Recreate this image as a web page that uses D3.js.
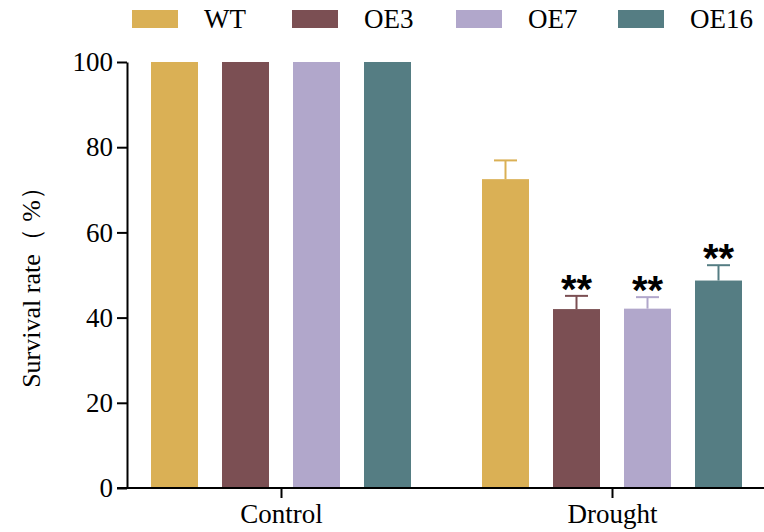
<!DOCTYPE html>
<html><head><meta charset="utf-8">
<script src="https://cdn.jsdelivr.net/npm/d3@7"></script>
<style>
body{margin:0;background:#fff}
svg{display:block}
svg text{font-family:"Times New Roman",serif;fill:#000}
svg text.sig{font-family:"Liberation Sans",Arial,sans-serif;font-weight:bold}
</style>
</head><body>
<script>
const categories = ["Control", "Drought"];
const series = ["WT", "OE3", "OE7", "OE16"];
const colors = ["#dab055", "#7b4f53", "#b1a7cb", "#557d83"];
const controlValues = [100, 100, 100, 100];
const droughtValues = [72.5, 42.0, 42.1, 48.7];
const controlErrors = [0, 0, 0, 0];
const droughtErrors = [4.4, 3.1, 2.7, 3.6];
const droughtSig = ["", "**", "**", "**"];
const yTicks = [0, 20, 40, 60, 80, 100];

const values = [controlValues, droughtValues];
const errors = [controlErrors, droughtErrors];
const sigs = [["", "", "", ""], droughtSig];

const W = 764, H = 532;
const svg = d3.select("body").append("svg").attr("width", W).attr("height", H);

const y = d3.scaleLinear().domain([0, 100]).range([488, 62]);
const x0 = d3.scalePoint().domain(categories).range([281, 612]);
const x1 = d3.scaleBand().domain(series).range([-130, 130]).paddingInner(0.338).paddingOuter(0);

// legend (drawn first)
const legX = [132, 292, 456, 618];
series.forEach((s, i) => {
  svg.append("rect").attr("x", legX[i]).attr("y", 10).attr("width", 46).attr("height", 18).attr("fill", colors[i]);
  svg.append("text").attr("x", legX[i] + 72).attr("y", 28).attr("font-size", 27).style("font-family", "Times New Roman, serif").text(s);
});

// y label
svg.append("text").attr("transform", "translate(40,281) rotate(-90)")
  .attr("text-anchor", "middle").attr("font-size", 26).style("font-family", "Times New Roman, serif")
  .text("Survival rate（ %）");

// bars
categories.forEach((c, ci) => {
  const g = svg.append("g");
  series.forEach((s, si) => {
    const v = values[ci][si], e = errors[ci][si];
    const bx = x0(c) + x1(s);
    const bw = x1.bandwidth();
    g.append("rect").attr("x", bx).attr("y", y(v)).attr("width", bw).attr("height", y(0) - y(v))
      .attr("fill", colors[si]);
    if (e > 0) {
      const cx = bx + bw / 2;
      g.append("line").attr("x1", cx).attr("x2", cx).attr("y1", y(v)).attr("y2", y(v + e))
        .attr("stroke", colors[si]).attr("stroke-width", 2);
      g.append("line").attr("x1", cx - 11.5).attr("x2", cx + 11.5).attr("y1", y(v + e)).attr("y2", y(v + e))
        .attr("stroke", colors[si]).attr("stroke-width", 2);
    }
    if (sigs[ci][si]) {
      g.append("text").attr("class", "sig").attr("x", bx + bw / 2).attr("y", y(v + e) + 7)
        .attr("text-anchor", "middle").attr("font-size", 40)
        .text(sigs[ci][si]);
    }
  });
});

// y axis
const yAxis = svg.append("g").attr("transform", "translate(127,0)")
  .call(d3.axisLeft(y).tickValues(yTicks).tickSize(10).tickSizeOuter(0).tickPadding(4));
yAxis.attr("font-family", null).attr("font-size", 27);
yAxis.selectAll("path,line").attr("stroke", "#000").attr("stroke-width", 2);
yAxis.selectAll("text").attr("font-size", 27).style("font-family", "Times New Roman, serif");

// x axis
const xAxis = svg.append("g").attr("transform", "translate(0,488)")
  .call(d3.axisBottom(x0).tickSize(10).tickSizeOuter(0).tickPadding(6));
xAxis.attr("font-family", null).attr("font-size", 27);
xAxis.select(".domain").attr("d", "M117,0H764");
xAxis.selectAll("path,line").attr("stroke", "#000").attr("stroke-width", 2);
xAxis.selectAll("text").attr("font-size", 27).style("font-family", "Times New Roman, serif");

// re-apply text after fonts are ready
if (document.fonts && document.fonts.ready) {
  document.fonts.ready.then(() => {
    svg.selectAll("text").each(function () {
      const t = this.textContent; this.textContent = ""; this.textContent = t;
    });
  });
}
</script>
</body></html>
